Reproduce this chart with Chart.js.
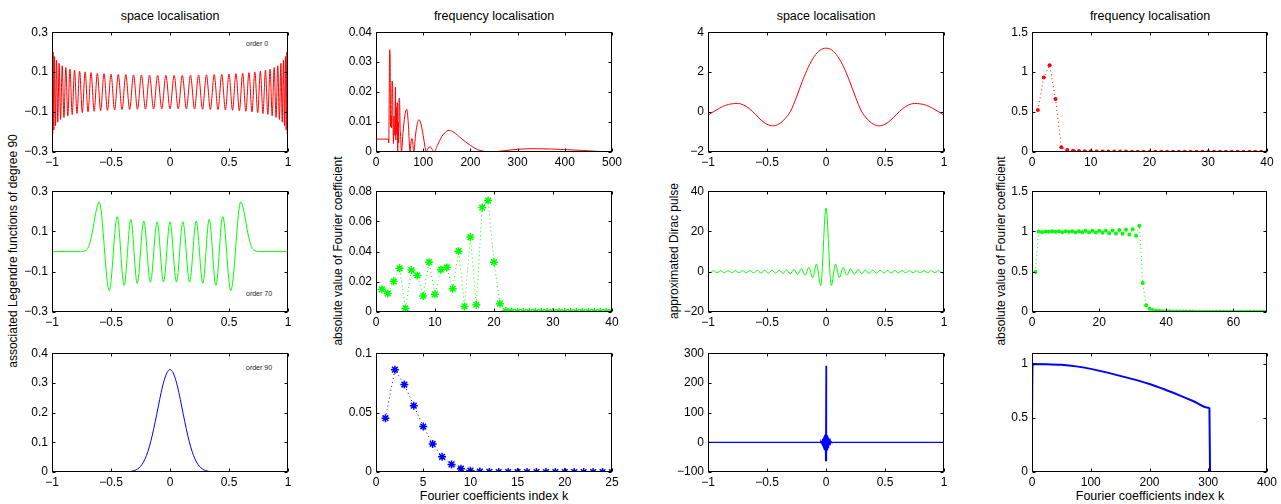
<!DOCTYPE html>
<html>
<head>
<meta charset="utf-8">
<title>Legendre localisation</title>
<script src="https://cdn.jsdelivr.net/npm/chart.js@4.4.0/dist/chart.umd.min.js"></script>
<style>
  body { margin: 0; width: 1281px; height: 504px; overflow: hidden; position: relative; background: #fff;
         font-family: "Liberation Sans", Arial, Helvetica, sans-serif; color: #000; }
  canvas { position: absolute; }
  .tt { position: absolute; font-size: 12.5px; line-height: 14px; white-space: nowrap; transform: translateX(-50%); }
  .yl { position: absolute; font-size: 12px; line-height: 14px; white-space: nowrap; transform: translate(-50%, -50%) rotate(-90deg); }
  .ord { position: absolute; font-size: 7px; line-height: 8px; white-space: nowrap; color: #222; }
</style>
</head>
<body>

<div class="tt" style="left:170px;top:9px">space localisation</div>
<div class="tt" style="left:494px;top:9px">frequency localisation</div>
<div class="tt" style="left:826px;top:9px">space localisation</div>
<div class="tt" style="left:1150px;top:9px">frequency localisation</div>

<div class="yl" style="left:13px;top:251px">associated Legendre functions of degree 90</div>
<div class="yl" style="left:338px;top:251px">absolute value of Fourier coefficient</div>
<div class="yl" style="left:674px;top:251px">approximated Dirac pulse</div>
<div class="yl" style="left:1001px;top:251px">absolute value of Fourier coefficient</div>

<div class="tt" style="left:494px;top:489px">Fourier coefficients index k</div>
<div class="tt" style="left:1150px;top:489px">Fourier coefficients index k</div>

<div class="ord" style="left:246px;top:40px">order 0</div>
<div class="ord" style="left:246px;top:290px">order 70</div>
<div class="ord" style="left:246px;top:364px">order 90</div>

<script>
// ---------- data ----------

// row 1, col 1 : order 0 (extrema of the oscillation)
const p1X = [-1, -0.9994, -0.9976, -0.9945, -0.9903, -0.9848, -0.9781, -0.9703, -0.9613, -0.9511,
  -0.9397, -0.9272, -0.9135, -0.8988, -0.8829, -0.8660, -0.8480, -0.8290, -0.8090, -0.7880,
  -0.7660, -0.7431, -0.7193, -0.6947, -0.6691, -0.6428, -0.6157, -0.5878, -0.5592, -0.5299,
  -0.5, -0.4695, -0.4384, -0.4067, -0.3746, -0.3420, -0.3090, -0.2756, -0.2419, -0.2079,
  -0.1736, -0.1392, -0.1045, -0.0698, -0.0349, 0,
  0.0349, 0.0698, 0.1045, 0.1392, 0.1736, 0.2079, 0.2419, 0.2756, 0.3090, 0.3420,
  0.3746, 0.4067, 0.4384, 0.4695, 0.5, 0.5299, 0.5592, 0.5878, 0.6157, 0.6428,
  0.6691, 0.6947, 0.7193, 0.7431, 0.7660, 0.7880, 0.8090, 0.8290, 0.8480, 0.8660,
  0.8829, 0.8988, 0.9135, 0.9272, 0.9397, 0.9511, 0.9613, 0.9703, 0.9781, 0.9848,
  0.9903, 0.9945, 0.9976, 0.9994, 1];
const p1Y = [0.3, -0.25, 0.23, -0.21, 0.2, -0.19, 0.178, -0.168, 0.16, -0.151,
  0.144, -0.137, 0.132, -0.127, 0.123, -0.119, 0.115, -0.112, 0.11, -0.107,
  0.105, -0.103, 0.101, -0.099, 0.0975, -0.096, 0.0946, -0.0934, 0.0923, -0.0912,
  0.0903, -0.0894, 0.0886, -0.0879, 0.0872, -0.0867, 0.0861, -0.0857, 0.0853, -0.0849,
  0.0847, -0.0844, 0.0842, -0.0841, 0.084, -0.084,
  0.084, -0.0841, 0.0842, -0.0844, 0.0847, -0.0849, 0.0853, -0.0857, 0.0861, -0.0867,
  0.0872, -0.0879, 0.0886, -0.0894, 0.0903, -0.0912, 0.0923, -0.0934, 0.0946, -0.096,
  0.0975, -0.099, 0.101, -0.103, 0.105, -0.107, 0.11, -0.112, 0.115, -0.119,
  0.123, -0.127, 0.132, -0.137, 0.144, -0.151, 0.16, -0.168, 0.178, -0.19,
  0.2, -0.21, 0.23, -0.25, 0.3];

// row 1, col 2 : spectrum of order 0
const p2X = [0, 26, 27, 29, 30, 31, 32, 33, 34, 35, 36, 37, 38, 39, 40, 41, 42, 43, 44, 45,
  46, 47, 48, 49, 50, 51, 52, 54, 57, 61, 65, 68, 71, 72, 74, 76, 78, 80, 84, 88,
  91, 95, 100, 104, 106, 110, 115, 120, 123, 130, 140, 150, 155, 165, 180, 200, 215, 230, 245, 270,
  300, 335, 370, 400, 440, 470, 500];
const p2Y = [0.0043, 0.0043, 0.003, 0.0342, 0.03, 0.0085, 0.012, 0.008, 0.0237, 0.023, 0.01, 0.0028, 0.012, 0.0075, 0.0055, 0.0217, 0.004, 0.015, 0.006, 0.0165,
  0, 0.01, 0.003, 0.018, 0.0175, 0.009, 0.006, 0, 0.006, 0.012, 0.0143, 0.0105, 0.002, 0, 0.003, 0.0045, 0.003, 0, 0.006, 0.0098,
  0.0108, 0.0095, 0.0055, 0.0015, 0, 0.0012, 0.0017, 0.0006, 0, 0.0022, 0.0053, 0.007, 0.0072, 0.0066, 0.0046, 0.0022, 0.0008, 0.0002, 0, 0.0004,
  0.0009, 0.0011, 0.001, 0.0008, 0.0005, 0.0002, 0];

// row 1, col 3 : space localisation
const p3X = [-1, -0.95, -0.9, -0.85, -0.8, -0.75, -0.7, -0.65, -0.6, -0.55, -0.5, -0.45, -0.4, -0.35, -0.3, -0.25, -0.2, -0.15, -0.1, -0.05,
  0, 0.05, 0.1, 0.15, 0.2, 0.25, 0.3, 0.35, 0.4, 0.45, 0.5, 0.55, 0.6, 0.65, 0.7, 0.75, 0.8, 0.85, 0.9, 0.95, 1];
const p3Y = [-0.15, 0.03, 0.2, 0.34, 0.41, 0.43, 0.36, 0.17, -0.1, -0.4, -0.61, -0.69, -0.6, -0.35, 0.05, 0.75, 1.55, 2.25, 2.78, 3.1,
  3.2, 3.1, 2.78, 2.25, 1.55, 0.75, 0.05, -0.35, -0.6, -0.69, -0.61, -0.4, -0.1, 0.17, 0.36, 0.43, 0.41, 0.34, 0.2, 0.03, -0.15];

// row 1, col 4
const p4K = [1, 2, 3, 4, 5, 6, 7, 8, 9, 10, 11, 12, 13, 14, 15, 16, 17, 18, 19, 20,
  21, 22, 23, 24, 25, 26, 27, 28, 29, 30, 31, 32, 33, 34, 35, 36, 37, 38, 39, 40];
const p4Y = [0.525, 0.934, 1.087, 0.665, 0.058, 0.025, 0.017, 0.012, 0.009, 0.008,
  0.007, 0.006, 0.006, 0.005, 0.005, 0.005, 0.004, 0.004, 0.004, 0.004,
  0.004, 0.003, 0.003, 0.003, 0.003, 0.003, 0.003, 0.003, 0.003, 0.003,
  0.002, 0.002, 0.002, 0.002, 0.002, 0.002, 0.002, 0.002, 0.002, 0.002];

// row 2, col 1 : order 70
const p5X = [-1, -0.76, -0.72, -0.69, -0.66, -0.63, -0.6, -0.515, -0.447, -0.389, -0.332, -0.278, -0.222, -0.166, -0.109, -0.055,
  0, 0.055, 0.109, 0.166, 0.222, 0.278, 0.332, 0.389, 0.447, 0.515, 0.6, 0.63, 0.66, 0.69, 0.72, 0.76, 1];
const p5Y = [0, 0, 0.004, 0.025, 0.09, 0.19, 0.247, -0.194, 0.174, -0.168, 0.16, -0.158, 0.152, -0.152, 0.148, -0.151,
  0.148, -0.151, 0.148, -0.152, 0.152, -0.158, 0.16, -0.168, 0.174, -0.194, 0.247, 0.19, 0.09, 0.025, 0.004, 0, 0];

// row 2, col 2
const p6K = p4K;
const p6Y = [0.015, 0.0123, 0.0203, 0.0289, 0.0024, 0.0278, 0.0242, 0.0106, 0.033, 0.0117,
  0.028, 0.0295, 0.0154, 0.0403, 0.0037, 0.0496, 0.0048, 0.0692, 0.0738, 0.033,
  0.0055, 0.0006, 0.0002, 0.0001, 0, 0, 0, 0, 0, 0,
  0, 0, 0, 0, 0, 0, 0, 0, 0, 0];

// row 2, col 3 : approximated Dirac pulse
const p7X = [-1, -0.985, -0.954, -0.923, -0.892, -0.861, -0.83, -0.799, -0.768, -0.737, -0.706, -0.675, -0.644, -0.613, -0.582, -0.551,
  -0.52, -0.489, -0.458, -0.427, -0.396, -0.365, -0.334, -0.303, -0.272, -0.24, -0.209, -0.177, -0.145, -0.113, -0.08, -0.045,
  0,
  0.045, 0.08, 0.113, 0.145, 0.177, 0.209, 0.24, 0.272, 0.303, 0.334, 0.365, 0.396, 0.427, 0.458, 0.489, 0.52,
  0.551, 0.582, 0.613, 0.644, 0.675, 0.706, 0.737, 0.768, 0.799, 0.83, 0.861, 0.892, 0.923, 0.954, 0.985, 1];
const p7Y = [0.2, -0.55, 0.5, -0.5, 0.5, -0.5, 0.5, -0.5, 0.5, -0.5, 0.5, -0.5, 0.55, -0.55, 0.6, -0.6,
  0.65, -0.65, 0.7, -0.75, 0.8, -0.85, 0.9, -1.0, 1.15, -1.3, 1.5, -1.8, 2.2, -3.0, 3.8, -6.9,
  31.7,
  -6.9, 3.8, -3.0, 2.2, -1.8, 1.5, -1.3, 1.15, -1.0, 0.9, -0.85, 0.8, -0.75, 0.7, -0.65, 0.65,
  -0.6, 0.6, -0.55, 0.55, -0.5, 0.5, -0.5, 0.5, -0.5, 0.5, -0.5, 0.5, -0.5, 0.5, -0.55, 0.2];

// row 2, col 4
const p8K = [1, 2, 3, 4, 5, 6, 7, 8, 9, 10, 11, 12, 13, 14, 15, 16, 17, 18, 19, 20,
  21, 22, 23, 24, 25, 26, 27, 28, 29, 30, 31, 32, 33, 34, 35, 36, 37, 38, 39, 40,
  41, 42, 43, 44, 45, 46, 47, 48, 49, 50, 51, 52, 53, 54, 55, 56, 57, 58, 59, 60,
  61, 62, 63, 64, 65, 66, 67, 68, 69, 70];
const p8Y = [0.496, 1.0, 0.99, 1.0, 0.996, 1.004, 0.996, 1.004, 0.99, 1.004,
  0.996, 1.004, 0.99, 1.004, 0.99, 1.008, 0.99, 1.008, 0.988, 1.008,
  0.983, 1.008, 0.979, 1.012, 0.975, 1.017, 0.971, 1.02, 0.963, 1.029,
  0.946, 1.07, 0.36, 0.083, 0.041, 0.025, 0.017, 0.012, 0.01, 0.009,
  0.008, 0.007, 0.007, 0.006, 0.006, 0.005, 0.005, 0.005, 0.004, 0.004,
  0.004, 0.004, 0.004, 0.003, 0.003, 0.003, 0.003, 0.003, 0.003, 0.003,
  0.002, 0.002, 0.002, 0.002, 0.002, 0.002, 0.002, 0.002, 0.002, 0.002];

// row 3, col 1 : order 90
const p9X = [-1, -0.45, -0.4, -0.35, -0.3, -0.275, -0.25, -0.225, -0.2, -0.175, -0.15, -0.125, -0.1, -0.075, -0.05, -0.025,
  0, 0.025, 0.05, 0.075, 0.1, 0.125, 0.15, 0.175, 0.2, 0.225, 0.25, 0.275, 0.3, 0.35, 0.4, 0.45, 1];
const p9Y = [0, 0, 0.0001, 0.001, 0.005, 0.01, 0.0189, 0.0333, 0.055, 0.085, 0.124, 0.17, 0.219, 0.268, 0.308, 0.335,
  0.345, 0.335, 0.308, 0.268, 0.219, 0.17, 0.124, 0.085, 0.055, 0.0333, 0.0189, 0.01, 0.005, 0.001, 0.0001, 0, 0];

// row 3, col 2
const p10K = [1, 2, 3, 4, 5, 6, 7, 8, 9, 10, 11, 12, 13, 14, 15, 16, 17, 18, 19, 20, 21, 22, 23, 24, 25];
const p10Y = [0.0453, 0.0861, 0.0736, 0.0558, 0.0383, 0.0236, 0.0128, 0.0064, 0.0028, 0.0011,
  0.0004, 0.0001, 0, 0, 0, 0, 0, 0, 0, 0, 0, 0, 0, 0, 0];

// row 3, col 3
const p11X = [-1, -0.05, -0.045, -0.04, -0.036, -0.0335, -0.031, -0.0285, -0.026, -0.0235, -0.021, -0.0185, -0.016, -0.0135, -0.011, -0.0085, -0.006, -0.0035,
  0, 0.0035, 0.006, 0.0085, 0.011, 0.0135, 0.016, 0.0185, 0.021, 0.0235, 0.026, 0.0285, 0.031, 0.0335, 0.036, 0.04, 0.045, 0.05, 1];
const p11Y = [0, 0, 2, -3, 5, -6, 8, -10, 12, -14, 16, -18, 20, -22, 24, -26, 28, -64,
  258, -64, 28, -26, 24, -22, 20, -18, 16, -14, 12, -10, 8, -6, 5, -3, 2, 0, 0];

// row 3, col 4
const p12X = [0, 1, 25, 50, 75, 100, 125, 150, 175, 200, 225, 250, 275, 300, 302, 303, 304, 400];
const p12Y = [0.5, 1, 0.998, 0.992, 0.978, 0.955, 0.925, 0.89, 0.855, 0.815, 0.766, 0.712, 0.655, 0.596, 0.59, 0.02, 0, 0];

// tick values
const ticksSpace = [-1, -0.5, 0, 0.5, 1];
const ticksLeg = [-0.3, -0.1, 0.1, 0.3];
const ticksFreq500 = [0, 100, 200, 300, 400, 500];
const ticksY04 = [0, 0.01, 0.02, 0.03, 0.04];
const ticksY3 = [-2, 0, 2, 4];
const ticks40 = [0, 10, 20, 30, 40];
const ticksY15 = [0, 0.5, 1, 1.5];
const ticksY08 = [0, 0.02, 0.04, 0.06, 0.08];
const ticksY7 = [-20, 0, 20, 40];
const ticks70 = [0, 20, 40, 60];
const ticksY9 = [0, 0.1, 0.2, 0.3, 0.4];
const ticks25 = [0, 5, 10, 15, 20, 25];
const ticksY10 = [0, 0.05, 0.1];
const ticksY11 = [-100, 0, 100, 200, 300];
const ticks400 = [0, 100, 200, 300, 400];
const ticksY12 = [0, 0.5, 1];

const RED = '#ff0000', GREEN = '#00ff00', BLUE = '#0000ff';

// ---------- helpers ----------
function pts(xs, ys) { return xs.map((x, i) => ({ x: x, y: ys[i] })); }
function fmt(v) { return v < 0 ? '\u2212' + String(-v) : String(v); }

function curve(xs, ys, color, smooth, width) {
  return {
    data: pts(xs, ys), borderColor: color, borderWidth: width || 1, pointRadius: 0,
    cubicInterpolationMode: smooth ? 'monotone' : 'default', tension: 0, fill: false
  };
}
function dots(xs, ys, color, style) {
  const star = style === 'star';
  return {
    data: pts(xs, ys), borderColor: color, borderWidth: 1, borderDash: [1, 3], fill: false,
    pointStyle: star ? 'star' : 'circle', pointRadius: star ? 4 : 2,
    pointBorderColor: color, pointBackgroundColor: color, pointBorderWidth: star ? 1.5 : 0
  };
}

// matlab-like box with inward ticks on all four sides
const frame = {
  id: 'frame',
  afterDatasetsDraw(chart) {
    const { ctx, chartArea: a, scales } = chart;
    const l = Math.round(a.left) + 0.5, r = Math.round(a.right) - 0.5;
    const t = Math.round(a.top) + 0.5, b = Math.round(a.bottom) - 0.5;
    ctx.save();
    ctx.strokeStyle = '#000';
    ctx.lineWidth = 1;
    ctx.strokeRect(l, t, r - l, b - t);
    ctx.beginPath();
    scales.x.ticks.forEach(tk => {
      const px = Math.round(scales.x.getPixelForValue(tk.value)) + 0.5;
      ctx.moveTo(px, b); ctx.lineTo(px, b - 3);
      ctx.moveTo(px, t); ctx.lineTo(px, t + 3);
    });
    scales.y.ticks.forEach(tk => {
      const py = Math.round(scales.y.getPixelForValue(tk.value)) + 0.5;
      ctx.moveTo(l, py); ctx.lineTo(l + 3, py);
      ctx.moveTo(r, py); ctx.lineTo(r - 3, py);
    });
    ctx.stroke();
    ctx.restore();
  }
};

Chart.defaults.font.family = '"Liberation Sans", Arial, Helvetica, sans-serif';
Chart.defaults.font.size = 12;
Chart.defaults.color = '#000';

const PAD_L = 52, PAD_T = 10, PAD_R = 16, PAD_B = 24;

function panel(L, T, W, H, xr, xt, yr, yt, datasets) {
  const cv = document.createElement('canvas');
  const cw = W + PAD_L + PAD_R, ch = H + PAD_T + PAD_B;
  cv.width = cw; cv.height = ch;
  cv.style.width = cw + 'px'; cv.style.height = ch + 'px';
  cv.style.left = (L - PAD_L) + 'px'; cv.style.top = (T - PAD_T) + 'px';
  document.body.appendChild(cv);
  new Chart(cv, {
    type: 'line',
    data: { datasets: datasets },
    options: {
      responsive: false, animation: false,
      layout: { padding: { top: PAD_T, right: PAD_R, left: 0, bottom: 0 } },
      plugins: { legend: { display: false }, tooltip: { enabled: false } },
      scales: {
        x: {
          type: 'linear', min: xr[0], max: xr[1],
          grid: { display: false, drawTicks: false }, border: { display: false },
          afterBuildTicks: s => { s.ticks = xt.map(v => ({ value: v })); },
          afterFit: s => { s.height = PAD_B; },
          ticks: { padding: 3, maxRotation: 0, autoSkip: false, callback: fmt }
        },
        y: {
          type: 'linear', min: yr[0], max: yr[1],
          grid: { display: false, drawTicks: false }, border: { display: false },
          afterBuildTicks: s => { s.ticks = yt.map(v => ({ value: v })); },
          afterFit: s => { s.width = PAD_L; },
          ticks: { padding: 4, autoSkip: false, callback: fmt }
        }
      }
    },
    plugins: [frame]
  });
}

// column / row geometry of the figure
const colL = [52, 376, 708, 1032];
const colW = [236, 236, 236, 235];
const rowT = [31, 190, 352];
const rowH = [121, 122, 120];

// row 1
panel(colL[0], rowT[0], colW[0], rowH[0], [-1, 1], ticksSpace, [-0.3, 0.3], ticksLeg,
  [curve(p1X, p1Y, RED, true)]);
panel(colL[1], rowT[0], colW[1], rowH[0], [0, 500], ticksFreq500, [0, 0.04], ticksY04,
  [curve(p2X, p2Y, RED, true)]);
panel(colL[2], rowT[0], colW[2], rowH[0], [-1, 1], ticksSpace, [-2, 4], ticksY3,
  [curve(p3X, p3Y, RED, true)]);
panel(colL[3], rowT[0], colW[3], rowH[0], [0, 40], ticks40, [0, 1.5], ticksY15,
  [dots(p4K, p4Y, RED, 'dot')]);

// row 2
panel(colL[0], rowT[1], colW[0], rowH[1], [-1, 1], ticksSpace, [-0.3, 0.3], ticksLeg,
  [curve(p5X, p5Y, GREEN, true)]);
panel(colL[1], rowT[1], colW[1], rowH[1], [0, 40], ticks40, [0, 0.08], ticksY08,
  [dots(p6K, p6Y, GREEN, 'star')]);
panel(colL[2], rowT[1], colW[2], rowH[1], [-1, 1], ticksSpace, [-20, 40], ticksY7,
  [curve(p7X, p7Y, GREEN, true)]);
panel(colL[3], rowT[1], colW[3], rowH[1], [0, 70], ticks70, [0, 1.5], ticksY15,
  [dots(p8K, p8Y, GREEN, 'dot')]);

// row 3
panel(colL[0], rowT[2], colW[0], rowH[2], [-1, 1], ticksSpace, [0, 0.4], ticksY9,
  [curve(p9X, p9Y, BLUE, true)]);
panel(colL[1], rowT[2], colW[1], rowH[2], [0, 25], ticks25, [0, 0.1], ticksY10,
  [dots(p10K, p10Y, BLUE, 'star')]);
panel(colL[2], rowT[2], colW[2], rowH[2], [-1, 1], ticksSpace, [-100, 300], ticksY11,
  [curve(p11X, p11Y, BLUE, false, 1.2)]);
panel(colL[3], rowT[2], colW[3], rowH[2], [0, 400], ticks400, [0, 1.1], ticksY12,
  [curve(p12X, p12Y, BLUE, true, 2)]);
</script>
</body>
</html>
